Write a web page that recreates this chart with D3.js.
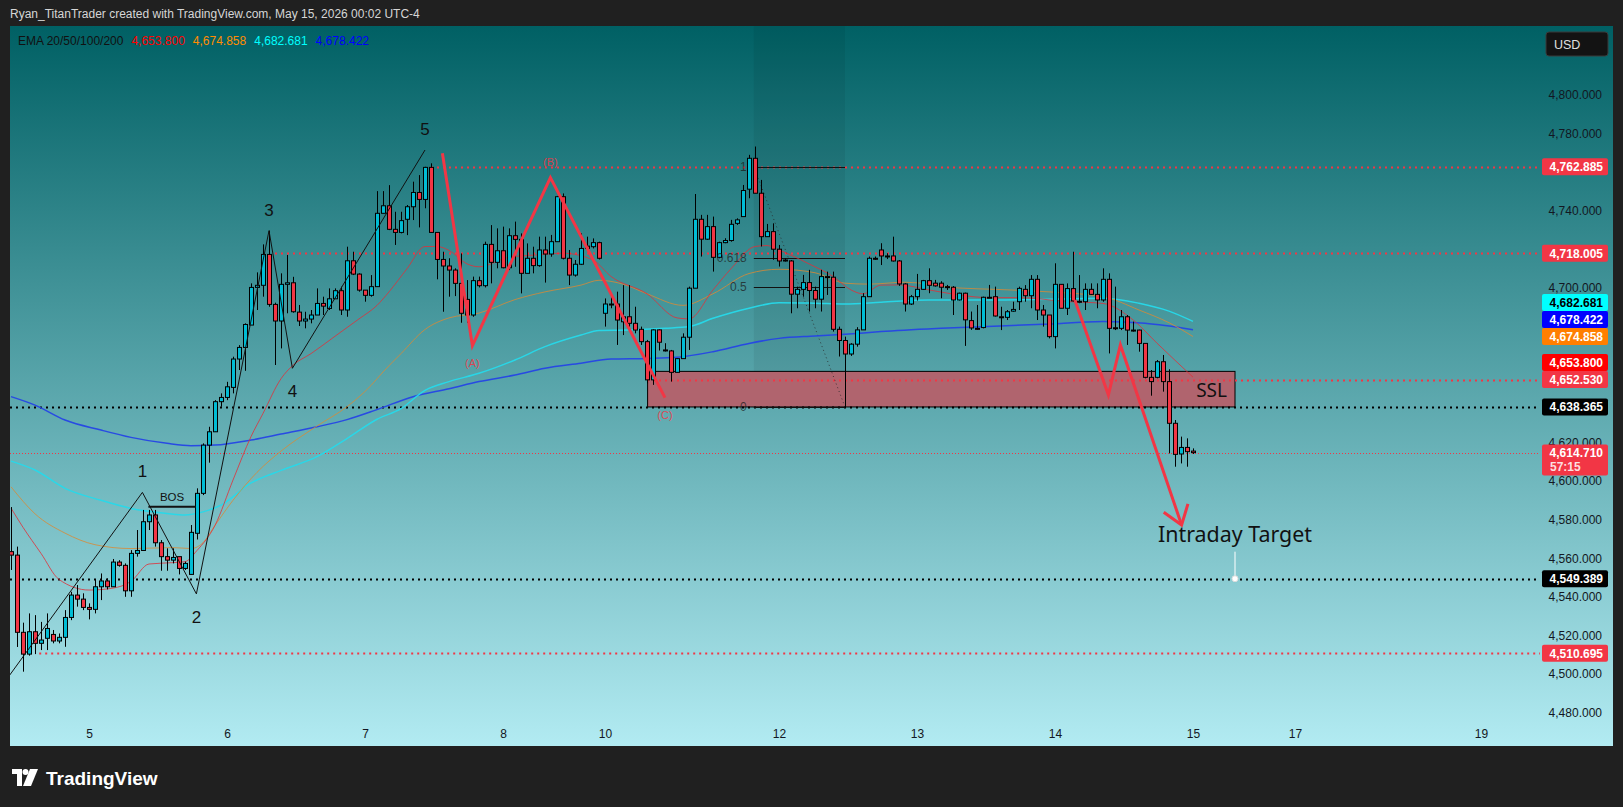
<!DOCTYPE html>
<html>
<head>
<meta charset="utf-8">
<script src="https://cdnjs.cloudflare.com/ajax/libs/d3/7.8.5/d3.min.js"></script>
<style>
	html, body { margin: 0; padding: 0; background: #202020; }
	svg { display: block; }
</style>
</head>
<body>
<svg id="chart" width="1623" height="807"></svg>
<script>
/* XAUUSD 1h snapshot redrawn with d3 */

// bar 0 = first hourly bar of the 5th, the list starts 13 bars earlier
var firstBar = -13;

var opens = [4563.4,4561.6,4521.6,4510.3,4521.9,4515.9,4518.5,4520.5,4517.1,4519.0,4529.3,4540.9,4538.8,
	4534.5,4533.5,4545.2,4548.2,4545.2,4558.0,4556.3,4543.1,4562.5,4564.0,4578.9,4582.4,4568.0,4560.8,4559.0,4560.8,4554.7,4551.6,4572.9,4593.6,4618.6,4625.5,4641.1,4643.3,
	4648.5,4663.2,4669.2,4680.8,4700.3,4701.4,4717.4,4691.5,4682.9,4701.9,4702.7,4687.5,4682.9,4683.9,4686.0,4692.0,4689.4,4694.4,4698.6,4688.6,4714.1,4707.2,4698.9,4696.2,4700.7,4738.7,4742.6,4730.4,4728.8,4735.6,4742.1,4749.5,4745.9,4762.5,4728.8,4714.8,
	4711.4,4709.3,4702.4,4694.1,4686.0,4703.8,4701.2,4722.6,4713.3,4719.3,4710.5,4727.1,4725.2,4707.6,4715.4,4711.6,4719.7,4717.6,4724.0,4747.3,4715.4,4706.7,4712.3,4721.7,4721.4,4723.5,
	4686.9,4691.7,4691.7,4682.5,4685.1,4681.7,4678.6,4672.2,4652.4,4678.3,4667.9,4667.4,4656.3,4663.4,4674.5,4699.9,4735.6,4725.3,4731.8,4715.9,4723.5,4724.6,4733.5,4737.0,4751.2,4767.2,4749.1,4726.6,4729.2,4720.1,4714.5,4714.0,4696.8,4699.3,4702.8,4698.7,4694.2,4705.9,4705.6,4678.6,4672.8,4665.8,4670.9,4678.3,4695.5,
	4715.4,4719.7,4716.6,4716.6,4714.0,4702.1,4691.7,4695.5,4699.3,4703.8,4702.5,4702.5,4700.7,4700.4,4693.8,4697.3,4683.1,4679.1,4679.5,4695.2,4695.5,4685.1,4684.8,4688.0,4692.9,4699.3,4696.0,4704.5,4688.6,4686.0,4674.8,4701.9,4689.5,4699.7,4692.9,4692.9,4699.3,4696.7,4693.8,4704.5,4679.4,4679.1,4685.1,4678.2,4678.2,4671.3,4653.7,4653.7,4661.8,4651.5,4629.9,4614.0,4617.4,4615.5];

var highs = [4586.5,4566.0,4526.6,4531.4,4530.5,4527.0,4531.4,4522.8,4521.0,4533.1,4542.6,4546.1,4541.8,
	4536.6,4548.7,4552.1,4549.5,4559.6,4559.0,4557.3,4564.2,4574.6,4585.0,4585.0,4585.0,4569.4,4565.1,4565.1,4560.8,4558.2,4577.2,4596.2,4619.5,4628.1,4641.9,4645.4,4651.4,
	4664.4,4670.4,4681.7,4702.4,4708.1,4722.6,4729.7,4692.4,4707.6,4717.1,4705.8,4691.2,4687.7,4688.6,4699.8,4695.5,4699.8,4699.8,4700.7,4721.4,4718.8,4707.6,4698.9,4706.7,4750.2,4750.2,4753.3,4739.5,4739.5,4743.0,4755.1,4758.5,4762.8,4764.6,4728.8,4718.8,
	4715.4,4710.2,4717.9,4704.1,4705.9,4705.9,4724.0,4732.6,4730.9,4731.8,4730.9,4734.4,4728.3,4723.1,4721.4,4726.6,4726.6,4727.5,4747.7,4749.0,4719.7,4714.5,4728.3,4726.6,4725.7,4724.0,
	4694.6,4696.4,4698.1,4701.5,4701.5,4690.3,4680.0,4673.1,4678.6,4678.6,4671.4,4667.9,4663.6,4676.5,4700.7,4748.7,4737.9,4737.9,4737.0,4724.0,4725.8,4735.3,4736.1,4753.4,4769.0,4773.3,4756.0,4733.2,4733.5,4722.3,4715.4,4714.5,4700.7,4706.8,4709.4,4700.7,4709.4,4708.5,4708.5,4680.0,4674.8,4671.4,4679.7,4697.3,4716.3,
	4716.3,4723.2,4718.0,4726.6,4714.5,4702.5,4696.4,4707.3,4704.2,4710.2,4704.2,4703.5,4701.6,4701.0,4697.6,4697.6,4687.8,4691.2,4695.5,4701.6,4700.7,4690.3,4688.6,4692.9,4700.7,4701.5,4706.7,4706.7,4691.2,4686.0,4712.8,4702.0,4702.4,4718.8,4706.7,4702.4,4702.4,4702.4,4710.2,4707.6,4700.7,4688.6,4686.0,4682.6,4678.4,4671.3,4657.5,4662.7,4665.3,4657.9,4631.6,4623.0,4622.1,4616.9];

var lows = [4553.9,4514.0,4501.2,4509.5,4510.3,4512.4,4512.4,4515.9,4515.9,4514.1,4527.9,4534.9,4533.1,
	4528.3,4531.4,4538.3,4543.8,4545.2,4555.6,4540.0,4540.0,4560.8,4564.0,4574.6,4566.0,4553.5,4553.5,4557.3,4551.6,4553.9,4551.6,4569.7,4592.7,4609.5,4625.5,4638.5,4641.9,
	4645.4,4657.5,4657.1,4680.8,4688.6,4695.5,4690.3,4660.1,4668.7,4686.9,4687.2,4680.3,4679.1,4681.7,4686.0,4686.0,4688.6,4694.6,4686.0,4685.1,4706.7,4698.1,4692.9,4695.5,4700.7,4738.7,4730.0,4722.3,4728.3,4727.4,4735.2,4731.4,4741.3,4728.6,4704.5,4687.7,
	4695.5,4695.8,4682.0,4682.0,4685.1,4700.3,4700.3,4702.4,4710.2,4710.2,4709.3,4711.0,4697.2,4707.6,4707.6,4711.0,4702.8,4716.2,4724.0,4714.8,4701.5,4705.9,4711.9,4719.7,4720.5,4714.8,
	4680.0,4689.5,4670.5,4675.6,4678.2,4676.5,4670.5,4650.6,4649.8,4667.6,4667.1,4651.5,4656.2,4663.4,4667.9,4699.9,4716.3,4724.9,4708.5,4715.4,4723.2,4724.0,4732.7,4737.9,4746.5,4749.1,4721.5,4726.6,4714.6,4711.1,4713.7,4686.9,4689.5,4695.5,4687.8,4689.5,4687.8,4696.4,4677.4,4664.5,4665.3,4664.8,4669.6,4678.3,4695.5,
	4714.5,4711.9,4715.0,4713.7,4701.1,4687.8,4691.2,4693.5,4699.0,4697.3,4700.7,4694.7,4699.0,4686.0,4693.5,4670.0,4678.3,4678.3,4679.1,4694.8,4685.2,4678.2,4683.4,4687.7,4688.6,4692.9,4689.5,4683.4,4680.0,4673.9,4668.7,4689.5,4686.0,4692.9,4692.1,4688.6,4696.4,4689.5,4692.9,4666.1,4678.2,4678.2,4670.5,4677.4,4667.0,4653.2,4644.2,4653.2,4646.3,4614.3,4607.4,4609.1,4607.4,4614.0];

var closes = [4561.6,4521.6,4510.3,4521.9,4515.9,4517.6,4523.6,4517.1,4519.0,4529.3,4540.9,4538.8,4534.5,
	4533.5,4545.2,4548.2,4545.2,4558.0,4556.3,4543.1,4562.5,4564.0,4578.9,4582.4,4568.0,4560.8,4559.0,4560.4,4554.7,4557.3,4573.4,4593.6,4618.6,4625.5,4641.1,4643.3,4648.8,
	4663.2,4669.2,4681.1,4700.3,4701.4,4717.4,4691.5,4682.9,4701.9,4702.7,4687.7,4682.9,4683.9,4686.0,4692.0,4690.6,4694.4,4698.6,4688.6,4714.1,4707.2,4698.9,4696.2,4700.7,4738.7,4742.6,4730.4,4728.8,4734.9,4742.1,4749.5,4745.9,4762.5,4728.8,4714.8,4711.4,
	4709.3,4702.4,4686.9,4686.0,4703.8,4701.2,4722.6,4713.3,4719.3,4710.5,4727.1,4725.2,4707.6,4715.4,4711.6,4719.7,4717.6,4724.0,4747.3,4715.4,4706.7,4712.3,4720.5,4720.5,4723.5,4715.4,
	4691.7,4691.5,4683.4,4685.1,4681.7,4678.2,4672.2,4652.4,4678.3,4671.9,4667.6,4656.3,4663.4,4674.5,4699.9,4735.6,4725.3,4731.8,4715.9,4723.5,4724.6,4733.0,4735.3,4750.5,4767.2,4749.1,4726.6,4729.2,4720.1,4714.0,4714.2,4696.8,4699.3,4702.8,4698.7,4694.2,4705.9,4705.7,4678.6,4672.8,4665.8,4670.9,4678.3,4695.5,4715.4,
	4715.2,4716.6,4716.4,4714.0,4702.1,4691.7,4695.5,4699.3,4703.8,4701.4,4701.1,4700.4,4700.5,4693.8,4697.3,4683.5,4679.3,4678.9,4695.2,4695.0,4685.5,4685.0,4687.7,4688.9,4699.8,4696.0,4704.5,4688.6,4686.0,4674.8,4701.9,4689.5,4699.7,4693.3,4693.1,4699.3,4696.7,4693.8,4704.5,4679.1,4679.2,4685.1,4678.2,4678.0,4671.3,4653.7,4651.5,4661.8,4651.5,4629.9,4613.8,4617.4,4615.2,4614.7];

// EMA lines at sample bars
var ema20Bars = [-13,-11,-8,-5,0,4,7,10,14,16,18,21,24,27,29,32,34,37,41,45,48,50,53,56,58,60,63,65,70,74,79,84,87,93,98,100,104,107,111,113,115,120,124,127,129,132,135,140,145,150,155,163,169,174,178,184];
var ema20 = [4586,4576,4562.5,4549,4543.5,4544.5,4548,4557,4557.7,4558.2,4564,4577,4600.5,4623,4635,4653,4660,4666,4675,4684,4691,4698,4710,4721.5,4721.5,4719.5,4712.5,4711,4716,4717,4718,4714.5,4706,4697,4684.5,4684,4699,4710,4721.5,4722,4719.7,4712.5,4706,4699,4697,4701.5,4701.6,4699,4696.4,4695,4695,4693,4692,4683.5,4671.4,4653.8];
var ema50Bars = [-13,-9,-4,1,7,14,17,19,21,24,28,32,38,43,47,49,52,56,60,65,71,76,82,85,89,93,99,104,110,115,121,126,130,136,145,151,160,169,175,180,184];
var ema50 = [4597,4583,4573,4567,4565,4565.5,4565,4568,4577,4590,4604.5,4615.5,4628.5,4638.5,4649.5,4656.5,4666,4678.5,4684.5,4687,4694,4698,4701.5,4704,4702,4697,4691,4697,4707.5,4709.7,4707.9,4702.5,4702,4703,4700,4699.3,4698,4695.5,4688.6,4682,4674.858];
var ema100Bars = [-13,-9,-4,2,7,13,16,19,22,27,32,38,43,48,52,56,60,65,71,76,82,85,90,96,100,104,110,115,121,126,132,140,151,160,169,175,180,184];
var ema100 = [4610.3,4605.7,4596.2,4590,4585.8,4583.2,4582.4,4584,4587.5,4599,4605.5,4612.6,4622,4632,4637.5,4647,4651.5,4655.8,4662.7,4669.6,4675.6,4678,4678.2,4679.1,4680,4684.3,4689.5,4692.4,4692.1,4691.7,4692.6,4693.8,4693.8,4694.2,4694.7,4692.1,4688,4682.681];
var ema200Bars = [-13,-9,-4,2,7,13,17,21,27,32,38,43,48,54,60,65,71,76,82,87,93,98,104,110,115,121,126,132,142,159,169,176,184];
var ema200 = [4643.7,4639.3,4631.6,4626.4,4622.6,4619.5,4618.3,4618.6,4621.2,4624.3,4628.1,4631.8,4637,4643.7,4647.8,4651.5,4654.9,4658.4,4661,4663.2,4663.5,4664.1,4667,4671.3,4673.9,4675.1,4676,4677.4,4679.1,4681.2,4682.6,4681.7,4678.422];

var dayLabels = ["5","6","7","8","10","12","13","14","15","17","19"];
var dayLabelBars = [0,23,46,69,86,115,138,161,184,201,232];
var priceTicks = [4480,4500,4520,4540,4560,4580,4600,4620,4640,4660,4680,4700,4720,4740,4760,4780,4800];

// horizontal levels: price, first bar, colour
var levelPrices = [4762.885, 4718.005, 4652.530, 4638.365, 4549.389, 4510.695];
var levelFromBar = [57, 31, 93, -14, -14, -8.3];
var levelColors = ["#f23645", "#f23645", "#f23645", "#000000", "#000000", "#f23645"];
var lastPrice = 4614.710, lastCountdown = "57:15";

// impulse count 1-5
var waveBars = [-13.2, 8.9, 17.9, 30, 33.9, 56];
var wavePrices = [4499.5, 4594.1, 4541.5, 4729.7, 4658.4, 4771.5];
var waveNames = ["", "1", "2", "3", "4", "5"];
// correction A-B-C
var abcBars = [58.9, 63.9, 76.9, 96];
var abcPrices = [4769.8, 4670.1, 4757.2, 4643.2];
var abcNames = ["", "(A)", "(B)", "(C)"];
// projected path to the target
var pathBars = [164.3, 169.9, 171.9, 182.1];
var pathPrices = [4693.8, 4644.6, 4670.5, 4577.2];

var bosBars = [9.9, 17.8], bosPrice = 4586.7;
var fibLevels = [1, 0.618, 0.5, 0];
var fibBars = [110.8, 126], fibHigh = 4762.885, fibLow = 4638.365;
var sslBars = [93.1, 191], sslPrices = [4638.365, 4656.8];
var targetBar = 191, targetPrice = 4549.389;


var svg = d3.select("#chart");
var plot = {left: 10, top: 26, right: 1540, bottom: 720};

var x = d3.scaleLinear().domain([0, 184]).range([89, 1193]);
var y = d3.scaleLinear().domain([4480, 4800]).range([712.6, 95]);

var defs = svg.append("defs");
var grad = defs.append("linearGradient").attr("id", "bg")
	.attr("x1", 0).attr("y1", 0).attr("x2", 0).attr("y2", 1);
grad.append("stop").attr("offset", "0%").attr("stop-color", "#006064");
grad.append("stop").attr("offset", "100%").attr("stop-color", "#b2ebf2");
defs.append("clipPath").attr("id", "plotClip").append("rect")
	.attr("x", plot.left).attr("y", plot.top)
	.attr("width", plot.right - plot.left).attr("height", plot.bottom - plot.top);

svg.append("rect").attr("width", 1623).attr("height", 807).attr("fill", "#202020");
svg.append("rect")
	.attr("x", 10).attr("y", 26).attr("width", 1603).attr("height", 720)
	.attr("fill", "url(#bg)");

var fontUI = "'Liberation Sans', Arial, sans-serif";

// title
svg.append("text")
	.attr("x", 10).attr("y", 18)
	.attr("fill", "#d6d6d6").style("font", "12px " + fontUI)
	.text("Ryan_TitanTrader created with TradingView.com, May 15, 2026 00:02 UTC-4");

var g = svg.append("g").attr("clip-path", "url(#plotClip)");

// fib range shading
g.append("rect")
	.attr("x", x(fibBars[0])).attr("y", plot.top)
	.attr("width", x(fibBars[1]) - x(fibBars[0]))
	.attr("height", y(fibLow) - plot.top)
	.attr("fill", "rgba(0,0,0,0.06)");

// SSL zone
g.append("rect")
	.attr("x", x(sslBars[0])).attr("y", y(sslPrices[1]))
	.attr("width", x(sslBars[1]) - x(sslBars[0]))
	.attr("height", y(sslPrices[0]) - y(sslPrices[1]))
	.attr("fill", "#b0646e").attr("stroke", "#000").attr("stroke-width", 1);

// horizontal levels
levelPrices.forEach(function(p, k) {
	g.append("line")
		.attr("x1", Math.max(plot.left, x(levelFromBar[k]))).attr("x2", plot.right)
		.attr("y1", Math.round(y(p)) + 0.5).attr("y2", Math.round(y(p)) + 0.5)
		.attr("stroke", levelColors[k]).attr("stroke-width", 2)
		.attr("stroke-dasharray", "2,4");
});
g.append("line")
	.attr("x1", plot.left).attr("x2", plot.right)
	.attr("y1", Math.round(y(lastPrice)) + 0.5).attr("y2", Math.round(y(lastPrice)) + 0.5)
	.attr("stroke", "#f23645").attr("stroke-width", 1)
	.attr("stroke-dasharray", "1,2");

// fib tool lines
fibLevels.forEach(function(lv) {
	var p = fibLow + lv * (fibHigh - fibLow);
	g.append("line")
		.attr("x1", x(fibBars[0])).attr("x2", x(fibBars[1]))
		.attr("y1", Math.round(y(p)) + 0.5).attr("y2", Math.round(y(p)) + 0.5)
		.attr("stroke", "#111").attr("stroke-width", 1);
});
g.append("line")
	.attr("x1", x(fibBars[0])).attr("y1", y(fibHigh))
	.attr("x2", x(fibBars[1])).attr("y2", y(fibLow))
	.attr("stroke", "rgba(40,40,40,0.8)").attr("stroke-width", 1)
	.attr("stroke-dasharray", "1,3");
g.append("line")
	.attr("x1", x(fibBars[1]) + 0.5).attr("x2", x(fibBars[1]) + 0.5)
	.attr("y1", y(4665.5)).attr("y2", y(fibLow))
	.attr("stroke", "#000").attr("stroke-width", 1);

// EMAs
var emaSets = [
	{bars: ema200Bars, vals: ema200, color: "#2545e6", width: 1.5},
	{bars: ema100Bars, vals: ema100, color: "#26d9ea", width: 1.5},
	{bars: ema50Bars, vals: ema50, color: "#d98a34", width: 1},
	{bars: ema20Bars, vals: ema20, color: "#e0303a", width: 1}
];
var emaLine = d3.line()
	.x(function(d) { return x(d[0]); })
	.y(function(d) { return y(d[1]); })
	.curve(d3.curveMonotoneX);
emaSets.forEach(function(s) {
	g.append("path")
		.datum(s.bars.map(function(b, k) { return [b, s.vals[k]]; }))
		.attr("d", emaLine)
		.attr("fill", "none")
		.attr("stroke", s.color).attr("stroke-width", s.width)
		.attr("stroke-opacity", s.width < 1.2 ? 0.8 : 0.95);
});

// candles
var bars = opens.map(function(o, k) {
	return {i: firstBar + k, o: o, h: highs[k], l: lows[k], c: closes[k]};
});
var candle = g.selectAll(".candle")
	.data(bars)
  .enter()
	.append("g")
	.attr("class", "candle");
candle.append("line")
	.attr("x1", function(d) { return x(d.i) + 0.5; })
	.attr("x2", function(d) { return x(d.i) + 0.5; })
	.attr("y1", function(d) { return y(d.h); })
	.attr("y2", function(d) { return y(d.l); })
	.attr("stroke", "#000").attr("stroke-width", 1);
candle.append("rect")
	.attr("x", function(d) { return x(d.i) - 1.5; })
	.attr("width", 4)
	.attr("y", function(d) { return y(Math.max(d.o, d.c)); })
	.attr("height", function(d) { return Math.max(1, Math.abs(y(d.o) - y(d.c))); })
	.attr("fill", function(d) { return d.c >= d.o ? "#00bcd4" : "#f23645"; })
	.attr("stroke", "#000").attr("stroke-width", 1);

// fib level labels sit on top of the candles
fibLevels.forEach(function(lv) {
	var p = fibLow + lv * (fibHigh - fibLow);
	g.append("text")
		.attr("x", x(fibBars[0]) - 7).attr("y", y(p) + 4)
		.attr("text-anchor", "end")
		.attr("fill", "rgba(30,30,30,0.75)").style("font", "12px " + fontUI)
		.text(lv);
});

// wave count
var ptLine = d3.line()
	.x(function(d) { return x(d[0]); })
	.y(function(d) { return y(d[1]); });
g.append("path")
	.datum(waveBars.map(function(b, k) { return [b, wavePrices[k]]; }))
	.attr("d", ptLine)
	.attr("fill", "none").attr("stroke", "#111").attr("stroke-width", 1);
waveBars.forEach(function(b, k) {
	if (!waveNames[k]) return;
	var up = k % 2 == 1;
	g.append("text")
		.attr("x", x(b)).attr("y", y(wavePrices[k]) + (up ? -15 : 29))
		.attr("text-anchor", "middle")
		.attr("fill", "#111").style("font", "17px " + fontUI)
		.text(waveNames[k]);
});

// break of structure
g.append("line")
	.attr("x1", x(bosBars[0])).attr("x2", x(bosBars[1]))
	.attr("y1", y(bosPrice)).attr("y2", y(bosPrice))
	.attr("stroke", "#111").attr("stroke-width", 2);
g.append("text")
	.attr("x", (x(bosBars[0]) + x(bosBars[1])) / 2).attr("y", y(bosPrice) - 6)
	.attr("text-anchor", "middle")
	.attr("fill", "#111").style("font", "11.5px " + fontUI)
	.text("BOS");

// ABC correction
g.append("path")
	.datum(abcBars.map(function(b, k) { return [b, abcPrices[k]]; }))
	.attr("d", ptLine)
	.attr("fill", "none").attr("stroke", "#f23645").attr("stroke-width", 3)
	.attr("stroke-linejoin", "miter");
abcBars.forEach(function(b, k) {
	if (!abcNames[k]) return;
	var up = k == 2;
	g.append("text")
		.attr("x", x(b)).attr("y", y(abcPrices[k]) + (up ? -12 : 21))
		.attr("text-anchor", "middle")
		.attr("fill", "rgba(242,54,69,0.85)").style("font", "11px " + fontUI)
		.text(abcNames[k]);
});

// projected move with arrow head
var pathPts = pathBars.map(function(b, k) { return [b, pathPrices[k]]; });
g.append("path")
	.datum(pathPts)
	.attr("d", ptLine)
	.attr("fill", "none").attr("stroke", "#f23645").attr("stroke-width", 3)
	.attr("stroke-linejoin", "miter");
var tipX = x(pathBars[3]), tipY = y(pathPrices[3]);
var prevX = x(pathBars[2]), prevY = y(pathPrices[2]);
var ang = Math.atan2(tipY - prevY, tipX - prevX);
var headLen = 22, headSpread = 0.62;
g.append("path")
	.attr("d", "M" + (tipX - headLen * Math.cos(ang - headSpread)) + "," + (tipY - headLen * Math.sin(ang - headSpread)) +
		"L" + tipX + "," + tipY +
		"L" + (tipX - headLen * Math.cos(ang + headSpread)) + "," + (tipY - headLen * Math.sin(ang + headSpread)))
	.attr("fill", "none").attr("stroke", "#f23645").attr("stroke-width", 3);

// SSL and target
g.append("text")
	.attr("x", x(sslBars[1]) - 8).attr("y", y(sslPrices[0]) - 10)
	.attr("text-anchor", "end")
	.attr("fill", "#111").style("font", "19px 'Noto Sans', sans-serif")
	.text("SSL");
g.append("text")
	.attr("x", x(targetBar)).attr("y", y(targetPrice) - 37)
	.attr("text-anchor", "middle")
	.attr("textLength", 154).attr("lengthAdjust", "spacingAndGlyphs")
	.attr("fill", "#111").style("font", "22px 'Noto Sans', sans-serif")
	.text("Intraday Target");
g.append("line")
	.attr("x1", x(targetBar)).attr("x2", x(targetBar))
	.attr("y1", y(targetPrice) - 27).attr("y2", y(targetPrice) - 3)
	.attr("stroke", "#fff").attr("stroke-width", 1);
g.append("circle")
	.attr("cx", x(targetBar)).attr("cy", y(targetPrice)).attr("r", 3)
	.attr("fill", "#fff").attr("stroke", "#ddd");

// price scale labels, stacked from the bottom up like TradingView does
var last = function(a) { return a[a.length - 1]; };
var tags = [
	{p: levelPrices[0], bg: "#f23645", fg: "#fff"},
	{p: levelPrices[1], bg: "#f23645", fg: "#fff"},
	{p: last(ema100), bg: "#00ffff", fg: "#000"},
	{p: last(ema200), bg: "#0000ff", fg: "#fff"},
	{p: last(ema50), bg: "#ff7f00", fg: "#fff"},
	{p: last(ema20), bg: "#ff0000", fg: "#fff"},
	{p: levelPrices[2], bg: "#f23645", fg: "#fff"},
	{p: levelPrices[3], bg: "#000000", fg: "#fff"},
	{p: levelPrices[4], bg: "#000000", fg: "#fff"},
	{p: levelPrices[5], bg: "#f23645", fg: "#fff"}
];
tags.sort(function(a, b) { return a.p - b.p; });
var prevTagY = Infinity;
tags.forEach(function(t) {
	t.y = Math.min(y(t.p), prevTagY - 17);
	prevTagY = t.y;
});

// price scale, ticks hidden where a tag sits on top of them
var shownTicks = priceTicks.filter(function(p) {
	return !tags.some(function(t) { return Math.abs(t.y - y(p)) < 8; });
});
var yAxis = svg.append("g")
	.attr("transform", "translate(1602,0)")
	.call(d3.axisLeft(y).tickValues(shownTicks).tickFormat(d3.format(",.3f")).tickSize(0).tickPadding(0));
yAxis.select(".domain").remove();
yAxis.selectAll("text").attr("fill", "#131722").style("font", "12px " + fontUI);

// time scale
var xAxis = svg.append("g")
	.attr("transform", "translate(0,726)")
	.call(d3.axisBottom(x).tickValues(dayLabelBars).tickFormat(function(d, k) { return dayLabels[k]; }).tickSize(0).tickPadding(3));
xAxis.select(".domain").remove();
xAxis.selectAll("text").attr("fill", "#131722").style("font", "12px " + fontUI);

var tagG = svg.selectAll(".tag").data(tags).enter().append("g").attr("class", "tag");
tagG.append("rect")
	.attr("x", 1542).attr("width", 66)
	.attr("y", function(d) { return d.y - 8.5; }).attr("height", 17).attr("rx", 2)
	.attr("fill", function(d) { return d.bg; });
tagG.append("text")
	.attr("x", 1603).attr("y", function(d) { return d.y + 4.5; })
	.attr("text-anchor", "end")
	.attr("fill", function(d) { return d.fg; })
	.style("font", "bold 12px " + fontUI)
	.text(function(d) { return d3.format(",.3f")(d.p); });

var ly = y(lastPrice);
svg.append("rect").attr("x", 1542).attr("width", 66).attr("y", ly - 8).attr("height", 31).attr("rx", 2).attr("fill", "#f23645");
svg.append("text").attr("x", 1603).attr("y", ly + 4.5).attr("text-anchor", "end")
	.attr("fill", "#fff").style("font", "bold 12px " + fontUI).text(d3.format(",.3f")(lastPrice));
svg.append("text").attr("x", 1550).attr("y", ly + 18.5)
	.attr("fill", "rgba(255,255,255,0.85)").style("font", "bold 12px " + fontUI).text(lastCountdown);

// currency button
svg.append("rect").attr("x", 1546).attr("y", 32).attr("width", 62).attr("height", 24).attr("rx", 3)
	.attr("fill", "#131313").attr("stroke", "#3a3a3a");
svg.append("text").attr("x", 1554).attr("y", 48.5)
	.attr("fill", "#e0e0e0").style("font", "12.5px " + fontUI).text("USD");

// indicator legend
var legend = svg.append("text").attr("x", 18).attr("y", 45).style("font", "12px " + fontUI);
legend.append("tspan").attr("fill", "#111").text("EMA 20/50/100/200");
[[last(ema20), "#ff0000"], [last(ema50), "#ff8c00"], [last(ema100), "#00ffff"], [last(ema200), "#0000ff"]].forEach(function(v) {
	legend.append("tspan").attr("dx", 8).attr("fill", v[1]).text(d3.format(",.3f")(v[0]));
});

// footer logo
var logo = svg.append("g").attr("transform", "translate(12,769)").attr("fill", "#fff");
logo.append("path").attr("d", "M0,0 H10 V17 H5 V5 H0 Z");
logo.append("circle").attr("cx", 13.5).attr("cy", 3).attr("r", 3);
logo.append("path").attr("d", "M18,0 H26 L19,17 H11 Z");
svg.append("text").attr("x", 46).attr("y", 785)
	.attr("fill", "#fff").style("font", "bold 19px " + fontUI).text("TradingView");
</script>
</body>
</html>
